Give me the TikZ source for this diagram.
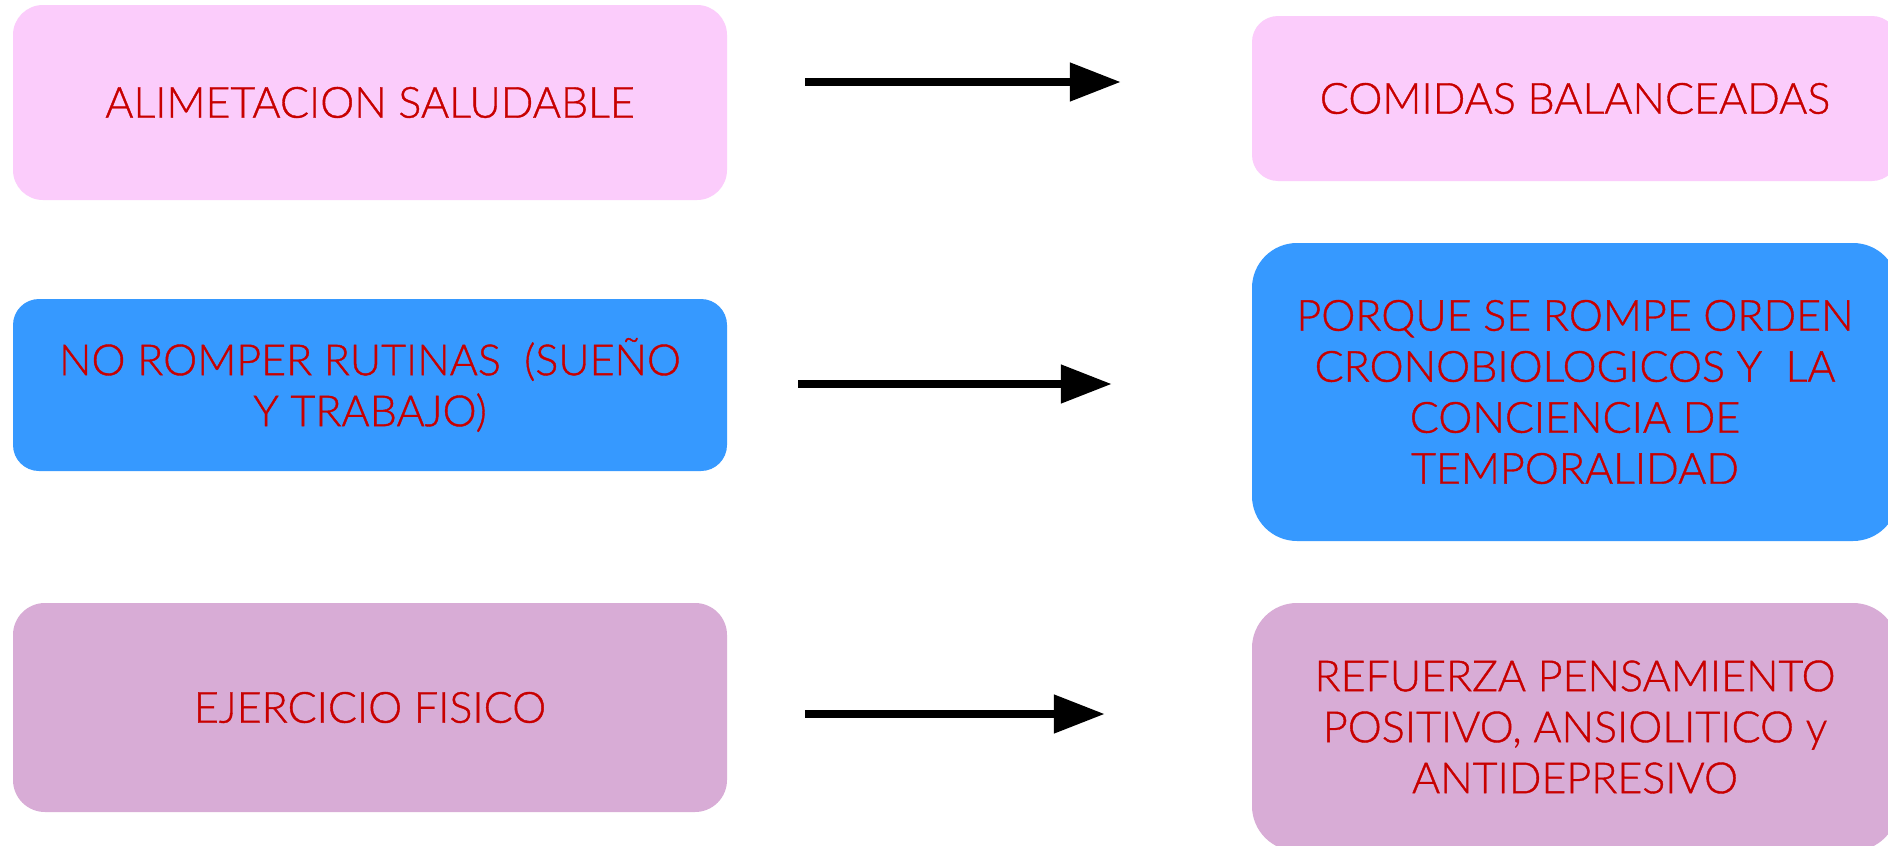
\documentclass[tikz,border=0pt]{standalone}
\usepackage{fontspec}
\setmainfont{Lato Light}[FakeBold=0.9,UprightFeatures={FakeBold=0.9}]
\usetikzlibrary{arrows.meta}
\definecolor{pinkfill}{RGB}{251,204,251}
\definecolor{bluefill}{RGB}{54,153,255}
\definecolor{mauvefill}{RGB}{216,172,214}
\definecolor{txtred}{RGB}{200,0,0}
\begin{document}
\begin{tikzpicture}[x=1pt,y=-1pt,
  box/.style={rectangle, inner sep=0pt, text=txtred, align=center,
    font=\fontsize{43}{51}\selectfont},
  link/.style={line width=8pt, -{Triangle[length=51pt,width=37pt]}}]
\useasboundingbox (0,0) rectangle (1888,846);
\fill[white] (0,0) rectangle (1888,846);
% left column: habits
\node[box, fill=pinkfill, rounded corners=30pt, minimum width=714pt, minimum height=195pt] (a1) at (370,102.5) {ALIMETACION SALUDABLE};
\node[box, fill=bluefill, rounded corners=26pt, minimum width=714pt, minimum height=172pt] (a2) at (370,385) {NO ROMPER RUTINAS\ \ (SUEÑO\\Y TRABAJO)};
\node[box, fill=mauvefill, rounded corners=32pt, minimum width=714pt, minimum height=209pt] (a3) at (370,707.5) {EJERCICIO FISICO};
% right column: effects
\node[box, fill=pinkfill, rounded corners=26pt, minimum width=646pt, minimum height=165pt] (b1) at (1575,98.5) {COMIDAS BALANCEADAS};
\node[box, fill=bluefill, rounded corners=45pt, minimum width=646pt, minimum height=298pt] (b2) at (1575,392) {PORQUE SE ROMPE ORDEN\\CRONOBIOLOGICOS Y\ \ LA\\CONCIENCIA DE\\TEMPORALIDAD};
\node[box, fill=mauvefill, rounded corners=45pt, minimum width=646pt, minimum height=248pt] (b3) at (1575,727) {REFUERZA PENSAMIENTO\\POSITIVO, ANSIOLITICO y\\ANTIDEPRESIVO};
% arrows
\draw[link, shorten <=78pt, shorten >=131pt] (a1.east |- 0,82) -- (b1.west |- 0,82);
\draw[link, shorten <=71pt, shorten >=140pt] (a2.east |- 0,384) -- (b2.west |- 0,384);
\draw[link, shorten <=78pt, shorten >=147pt] (a3.east |- 0,714) -- (b3.west |- 0,714);
\end{tikzpicture}
\end{document}
